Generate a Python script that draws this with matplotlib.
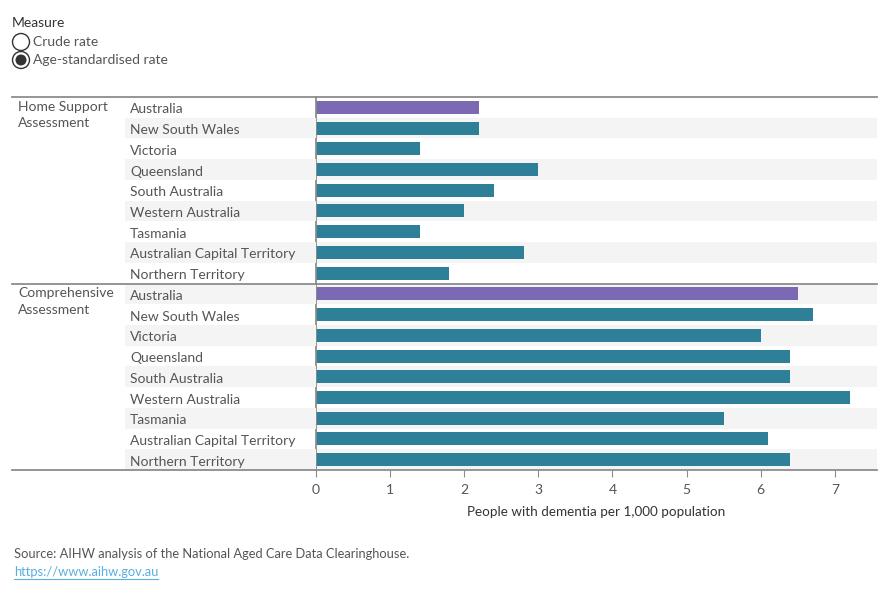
import matplotlib
matplotlib.use("Agg")
import matplotlib.pyplot as plt
import numpy as np
from matplotlib.patches import Circle

plt.rcParams["font.family"] = ["Lato", "DejaVu Sans"]

# data
groups = ["Home Support\nAssessment", "Comprehensive\nAssessment"]
states = ["Australia", "New South Wales", "Victoria", "Queensland", "South Australia",
          "Western Australia", "Tasmania", "Australian Capital Territory", "Northern Territory"]
home_support = [2.2, 2.2, 1.4, 3.0, 2.4, 2.0, 1.4, 2.8, 1.8]
comprehensive = [6.5, 6.7, 6.0, 6.4, 6.4, 7.2, 5.5, 6.1, 6.4]
x_ticks = [0, 1, 2, 3, 4, 5, 6, 7]
x_label = "People with dementia per 1,000 population"
source = "Source: AIHW analysis of the National Aged Care Data Clearinghouse."
url = "https://www.aihw.gov.au"

TEAL = "#2e7f98"
PURPLE = "#7b69b4"
SHADE = "#f4f4f4"
LINE = "#8c8c8c"
TXT = "#555555"
FS = 10

W, H = 890, 600
fig = plt.figure(figsize=(W / 100, H / 100), dpi=100)


def fx(px):
    return px / W


def fy(py):
    return 1 - py / H


top, bot = 97, 470
ax = fig.add_axes([fx(316), fy(bot), fx(877 - 316), (bot - top) / H])
lab = fig.add_axes([fx(12), fy(bot), fx(316 - 12), (bot - top) / H], sharey=ax)

values = home_support + comprehensive
n = len(values)
ypos = np.arange(n) + 0.5
colors = [PURPLE if s == "Australia" else TEAL for s in states] * 2

for i in range(n):
    if i % 2 == 1:
        ax.axhspan(i, i + 1, color=SHADE, lw=0, zorder=0)
        lab.axhspan(i, i + 1, xmin=(125 - 12) / 304, xmax=1, color=SHADE, lw=0, zorder=0)

ax.barh(ypos, values, height=0.63, color=colors, zorder=2)
ax.set_xlim(0, 7.57)
ax.set_ylim(n, 0)

for a in (ax, lab):
    for y in (0, len(states), n):
        a.axhline(y, color=LINE, lw=1.3, clip_on=False, zorder=3)
    for s in ["top", "right", "bottom", "left"]:
        a.spines[s].set_visible(False)

ax.spines["left"].set_visible(True)
ax.spines["left"].set_color(LINE)
ax.spines["left"].set_linewidth(1.3)
ax.set_yticks([])
ax.set_xticks(x_ticks)
ax.tick_params(axis="x", length=5, color=LINE, labelcolor=TXT, labelsize=FS, pad=5)
ax.set_xlabel(x_label, fontsize=9.7, color="#333333", labelpad=7)

lab.set_xlim(0, 1)
lab.set_xticks([])
lab.tick_params(left=False, labelleft=False)
lab.patch.set_alpha(0)

for gi, g in enumerate(groups):
    base = gi * len(states)
    lab.text(6 / 304, base + 0.18, g, ha="left", va="top", fontsize=FS, color=TXT,
             linespacing=1.45)
    for si, s in enumerate(states):
        lab.text(118 / 304, base + si + 0.6, s, ha="left", va="center", fontsize=FS,
                 color=TXT)

# legend / header and footer on an overlay
ov = fig.add_axes([0, 0, 1, 1])
ov.set_xlim(0, W)
ov.set_ylim(H, 0)
ov.axis("off")
ov.patch.set_alpha(0)

ov.text(12, 23, "Measure", fontsize=FS, color="#333333", va="center", ha="left")
ov.add_patch(Circle((21, 42), 8.5, facecolor="white", edgecolor="#333333", lw=1))
ov.text(33, 42, "Crude rate", fontsize=FS, color=TXT, va="center", ha="left")
ov.add_patch(Circle((21, 60), 8.5, facecolor="white", edgecolor="#333333", lw=1))
ov.add_patch(Circle((21, 60), 5.5, facecolor="#333333", edgecolor="none"))
ov.text(33, 60, "Age-standardised rate", fontsize=FS, color=TXT, va="center", ha="left")

ov.text(14, 554, source, fontsize=9.3, color=TXT, va="center", ha="left")
ut = ov.text(14, 572, url, fontsize=9.3, color="#5aaee0", va="center", ha="left")
fig.canvas.draw()
bb = ut.get_window_extent(fig.canvas.get_renderer())
ov.plot([bb.x0, bb.x1], [579, 579], color="#5aaee0", lw=0.8)

fig.savefig("out.png", dpi=100)
